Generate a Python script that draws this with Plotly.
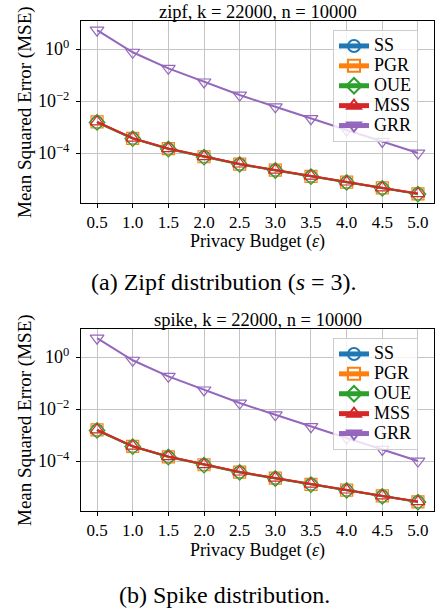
import plotly.graph_objects as go

eps = [0.5, 1.0, 1.5, 2.0, 2.5, 3.0, 3.5, 4.0, 4.5, 5.0]
x_ticks = ["0.5", "1.0", "1.5", "2.0", "2.5", "3.0", "3.5", "4.0", "4.5", "5.0"]
methods = ["SS", "PGR", "OUE", "MSS", "GRR"]

# zipf panel
zipf_ss = [1.55e-3, 3.70e-4, 1.48e-4, 7.3e-5, 3.80e-5, 2.20e-5, 1.29e-5, 7.6e-6, 4.50e-6, 2.75e-6]
zipf_pgr = [1.58e-3, 3.68e-4, 1.47e-4, 7.2e-5, 3.78e-5, 2.21e-5, 1.28e-5, 7.65e-6, 4.55e-6, 2.72e-6]
zipf_oue = [1.50e-3, 3.60e-4, 1.43e-4, 7.0e-5, 3.66e-5, 2.14e-5, 1.25e-5, 7.4e-6, 4.40e-6, 2.66e-6]
zipf_mss = [1.57e-3, 3.72e-4, 1.49e-4, 7.3e-5, 3.80e-5, 2.22e-5, 1.29e-5, 7.7e-6, 4.56e-6, 2.76e-6]
zipf_grr = [5.3, 0.75, 0.18, 0.054, 0.017, 6.0e-3, 2.1e-3, 7.7e-4, 2.8e-4, 1.0e-4]

# spike panel
spike_ss = [1.56e-3, 3.69e-4, 1.48e-4, 7.3e-5, 3.79e-5, 2.20e-5, 1.29e-5, 7.6e-6, 4.52e-6, 2.74e-6]
spike_pgr = [1.59e-3, 3.67e-4, 1.46e-4, 7.2e-5, 3.77e-5, 2.21e-5, 1.28e-5, 7.62e-6, 4.55e-6, 2.72e-6]
spike_oue = [1.50e-3, 3.61e-4, 1.43e-4, 7.0e-5, 3.65e-5, 2.14e-5, 1.25e-5, 7.4e-6, 4.41e-6, 2.66e-6]
spike_mss = [1.57e-3, 3.72e-4, 1.49e-4, 7.3e-5, 3.80e-5, 2.22e-5, 1.29e-5, 7.7e-6, 4.56e-6, 2.76e-6]
spike_grr = [5.3, 0.75, 0.18, 0.054, 0.017, 6.0e-3, 2.1e-3, 7.7e-4, 2.8e-4, 1.0e-4]

titles = ["zipf, k = 22000, n = 10000", "spike, k = 22000, n = 10000"]
captions = ["(a) Zipf distribution (<i>s</i> = 3).", "(b) Spike distribution."]
y_tickvals = [1e-4, 1e-2, 1]
y_ticktext = ["10<sup>−4</sup>", "10<sup>−2</sup>", "10<sup>0</sup>"]

colors = ["#1f77b4", "#ff7f0e", "#2ca02c", "#d62728", "#9467bd"]
symbols = ["circle-open", "square-open", "diamond-open", "triangle-up-open", "triangle-down-open"]

panels = [
    [zipf_ss, zipf_pgr, zipf_oue, zipf_mss, zipf_grr],
    [spike_ss, spike_pgr, spike_oue, spike_mss, spike_grr],
]

W, H = 435, 612
FONT = "Liberation Serif"

fig = go.Figure()

ax_left, ax_right = 81, 434
panel_px = [(21, 203), (329, 511)]

for p, series in enumerate(panels):
    xa = "x" if p == 0 else "x2"
    ya = "y" if p == 0 else "y2"
    leg = "legend" if p == 0 else "legend2"
    for i, m in enumerate(methods):
        fig.add_trace(go.Scatter(
            x=eps, y=series[i], name='<span style="font-size:18px">%s</span>' % m,
            mode="lines+markers",
            line=dict(color=colors[i], width=2),
            marker=dict(symbol=symbols[i], size=12, color=colors[i], line=dict(width=1.2, color=colors[i])),
            xaxis=xa, yaxis=ya, legend=leg,
        ))

common_x = dict(
    range=[0.275, 5.225], tickvals=eps, ticktext=x_ticks,
    showgrid=True, gridcolor="#c4c4c4", gridwidth=1,
    showline=True, linecolor="black", linewidth=1, mirror=True,
    ticks="outside", ticklen=4, tickcolor="black",
    tickfont=dict(family=FONT, size=17, color="black"), zeroline=False,
    domain=[ax_left / W, ax_right / W],
)
common_y = dict(
    type="log", range=[-5.92, 1.077], tickvals=y_tickvals, ticktext=y_ticktext,
    showgrid=True, gridcolor="#c4c4c4", gridwidth=1,
    showline=True, linecolor="black", linewidth=1, mirror=True,
    ticks="outside", ticklen=4, tickcolor="black", ticklabelstandoff=3,
    tickfont=dict(family=FONT, size=18, color="black"), zeroline=False,
)

(t1, b1), (t2, b2) = panel_px
fig.update_layout(
    xaxis=dict(**common_x, anchor="y"),
    yaxis=dict(**common_y, anchor="x", domain=[1 - b1 / H, 1 - t1 / H]),
    xaxis2=dict(**common_x, anchor="y2"),
    yaxis2=dict(**common_y, anchor="x2", domain=[1 - b2 / H, 1 - t2 / H]),
)

leg_common = dict(
    xanchor="left", yanchor="top", x=333 / W,
    bgcolor="rgba(255,255,255,0.8)", bordercolor="#cccccc", borderwidth=1,
    font=dict(family=FONT, size=13, color="black"),
    itemsizing="constant", tracegroupgap=0,
)
fig.update_layout(
    legend=dict(**leg_common, y=1 - 30 / H),
    legend2=dict(**leg_common, y=1 - 338 / H),
)

annotations = []
for p in range(2):
    t, b = panel_px[p]
    off = 0 if p == 0 else 308
    annotations.append(dict(text=titles[p], x=(ax_left + ax_right) / 2 / W, y=1 - (12 + off) / H,
                            xref="paper", yref="paper", showarrow=False, xanchor="center", yanchor="middle",
                            font=dict(family=FONT, size=18.5, color="black")))
    annotations.append(dict(text="Privacy Budget (<i>ε</i>)", x=(ax_left + ax_right) / 2 / W, y=1 - (242 + off) / H,
                            xref="paper", yref="paper", showarrow=False, xanchor="center", yanchor="middle",
                            font=dict(family=FONT, size=18, color="black")))
    annotations.append(dict(text="Mean Squared Error (MSE)", x=25 / W, y=1 - ((t + b) / 2) / H,
                            xref="paper", yref="paper", showarrow=False, xanchor="center", yanchor="middle",
                            textangle=-90, font=dict(family=FONT, size=19, color="black")))
    annotations.append(dict(text=captions[p], x=224 / W, y=1 - ((282 if p == 0 else 595)) / H,
                            xref="paper", yref="paper", showarrow=False, xanchor="center", yanchor="middle",
                            font=dict(family=FONT, size=24, color="black")))

fig.update_layout(
    annotations=annotations,
    width=W, height=H, margin=dict(l=0, r=0, t=0, b=0),
    paper_bgcolor="white", plot_bgcolor="white", showlegend=True,
)

fig.write_html("out.html", config={"displayModeBar": False},
               post_script="document.body.style.margin='0px';document.body.style.overflow='hidden';")
